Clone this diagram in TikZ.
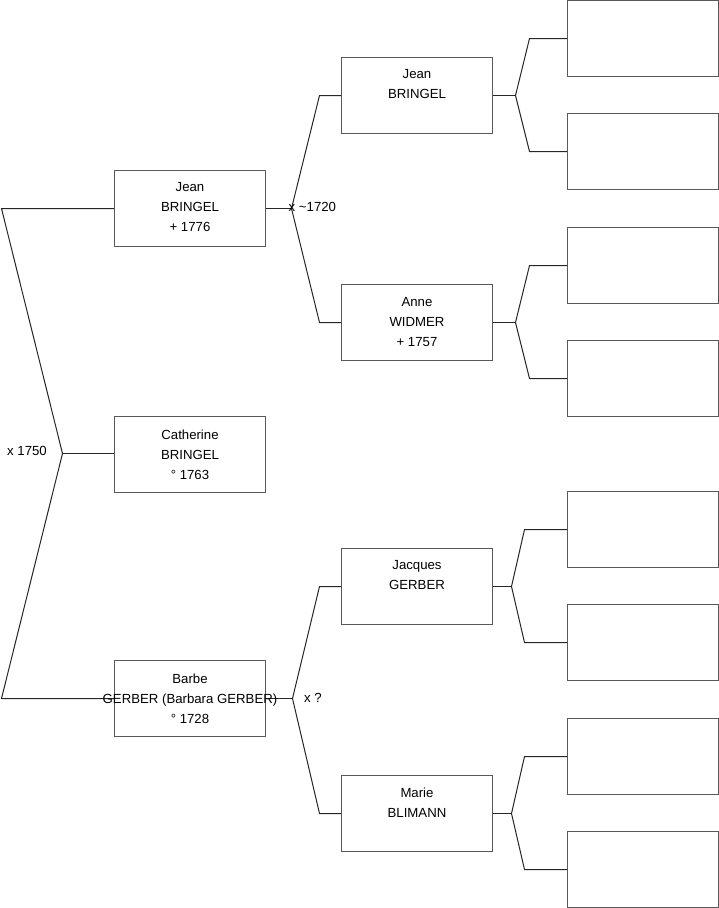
\documentclass[tikz,border=0pt]{standalone}
\usepackage{fontspec}
\setmainfont{Liberation Sans}
\begin{document}
\begin{tikzpicture}[x=1pt,y=-1pt,
  pbox/.style={draw=black!65, line width=1pt, fill=white, minimum width=151pt, minimum height=76pt, inner sep=0pt},
  ptext/.style={font=\fontsize{13.2}{20}\selectfont, align=center, inner sep=0pt, text=black},
  conn/.style={draw=black!85, line width=1pt},
  lbl/.style={font=\fontsize{13.2}{16}\selectfont, inner sep=0pt, anchor=west, text=black}]
\useasboundingbox (0,0) rectangle (719,908);
\begin{scope}[shift={(0.5,0.5)}]
% generation 1
\node[pbox] (j1) at (189.5,208) {};
\node[pbox] (c1) at (189.5,454) {};
\node[pbox] (b1) at (189.5,698) {};
% generation 2
\node[pbox] (j2) at (416.5,95) {};
\node[pbox] (a2) at (416.5,322) {};
\node[pbox] (q2) at (416.5,586) {};
\node[pbox] (m2) at (416.5,813) {};
% generation 3
\node[pbox] (g1) at (642.5,38) {};
\node[pbox] (g2) at (642.5,151) {};
\node[pbox] (g3) at (642.5,265) {};
\node[pbox] (g4) at (642.5,378) {};
\node[pbox] (g5) at (642.5,529) {};
\node[pbox] (g6) at (642.5,642) {};
\node[pbox] (g7) at (642.5,756) {};
\node[pbox] (g8) at (642.5,869) {};
% fork coordinates
\coordinate (l0t) at (1,208);
\coordinate (l0a) at (62,453);
\coordinate (l0b) at (1,698);
\coordinate (f1) at (291,208);
\coordinate (f1t) at (319,95);
\coordinate (f1b) at (319,322);
\coordinate (f2) at (292,698);
\coordinate (f2t) at (319,586);
\coordinate (f2b) at (319,813);
\coordinate (h1) at (515,95);
\coordinate (h1t) at (529,38);
\coordinate (h1b) at (529,151);
\coordinate (h2) at (515,322);
\coordinate (h2t) at (529,265);
\coordinate (h2b) at (529,378);
\coordinate (h3) at (511,586);
\coordinate (h3t) at (524,529);
\coordinate (h3b) at (524,642);
\coordinate (h4) at (511,813);
\coordinate (h4t) at (524,756);
\coordinate (h4b) at (524,869);
% connectors
\draw[conn] (j1.west) -- (l0t) -- (l0a) -- (l0b) -- (b1.west);
\draw[conn] (l0a) -- (c1.west |- l0a);
\draw[conn] (j1.east) -- (f1);
\draw[conn] (j2.west) -- (f1t) -- (f1) -- (f1b) -- (a2.west);
\draw[conn] (b1.east) -- (f2);
\draw[conn] (q2.west) -- (f2t) -- (f2) -- (f2b) -- (m2.west);
\draw[conn] (j2.east) -- (h1);
\draw[conn] (g1.west) -- (h1t) -- (h1) -- (h1b) -- (g2.west);
\draw[conn] (a2.east) -- (h2);
\draw[conn] (g3.west) -- (h2t) -- (h2) -- (h2b) -- (g4.west);
\draw[conn] (q2.east) -- (h3);
\draw[conn] (g5.west) -- (h3t) -- (h3) -- (h3b) -- (g6.west);
\draw[conn] (m2.east) -- (h4);
\draw[conn] (g7.west) -- (h4t) -- (h4) -- (h4b) -- (g8.west);
% texts
\node[ptext, yshift=1pt] (t1) at (j1) {Jean\\BRINGEL\\+ 1776};
\node[ptext, yshift=0pt] (t2) at (c1) {Catherine\\BRINGEL\\° 1763};
\node[ptext, yshift=0pt] (t3) at (b1) {Barbe\\GERBER (Barbara GERBER)\\° 1728};
\node[ptext, yshift=1pt] (t4) at (j2) {Jean\\BRINGEL\\\phantom{0}};
\node[ptext, yshift=0pt] (t5) at (a2) {Anne\\WIDMER\\+ 1757};
\node[ptext, yshift=1pt] (t6) at (q2) {Jacques\\GERBER\\\phantom{0}};
\node[ptext, yshift=1pt] (t7) at (m2) {Marie\\BLIMANN\\\phantom{0}};
% marriage labels
\node[lbl] (x1) at (6.5,450.5) {x 1750};
\node[lbl] (x2) at (288,206.5) {x \textasciitilde 1720};
\node[lbl] (x3) at (303.5,697.5) {x ?};
\end{scope}
\end{tikzpicture}
\end{document}
